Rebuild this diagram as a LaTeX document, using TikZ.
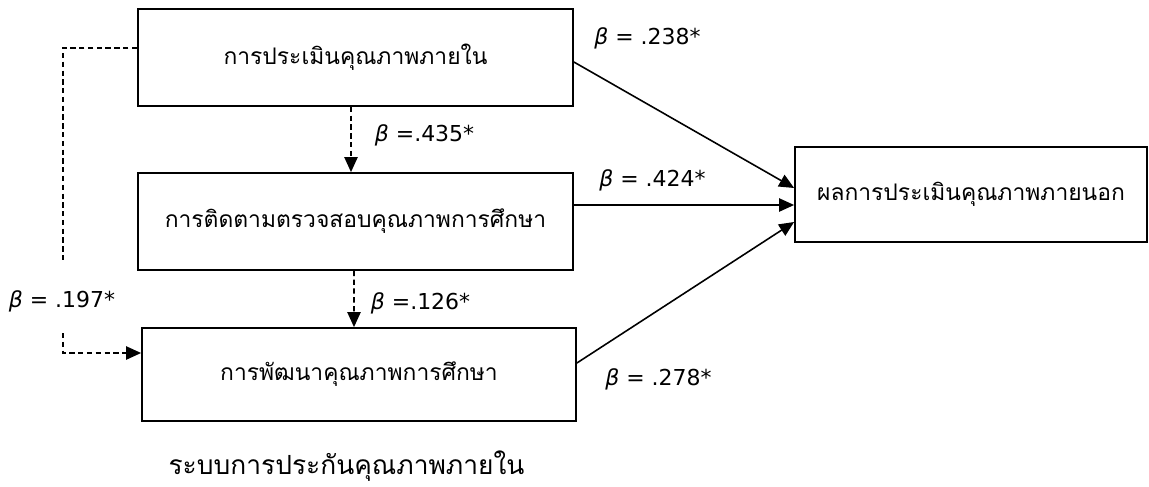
\documentclass[tikz,border=0pt]{standalone}
\usepackage{fontspec}
\setmainfont{DejaVu Sans}
\newfontfamily\thaifont[Script=Thai]{Loma}
\usetikzlibrary{arrows.meta}

\begin{document}
\begin{tikzpicture}[
  box/.style={draw, line width=1pt, minimum width=8.7cm, minimum height=1.94cm, inner sep=0pt, font=\thaifont\fontsize{13}{15}\selectfont},
  link/.style={line width=0.9pt, -{Triangle[length=8.5pt,width=7.5pt]}},
  dlink/.style={link, dash pattern=on 3pt off 2pt},
  coef/.style={font=\fontsize{12.5}{14}\selectfont, inner sep=1pt}
]
\useasboundingbox (0,0) rectangle (22.98,9.72);

% Draw the three internal boxes and the outcome box
\node[box] (eval) at (7.11,8.57) {การประเมินคุณภาพภายใน};
\node[box] (monitor) at (7.11,5.29) {การติดตามตรวจสอบคุณภาพการศึกษา};
\node[box, minimum width=8.68cm, minimum height=1.86cm] (develop) at (7.18,2.23) {การพัฒนาคุณภาพการศึกษา};
\node[box, minimum width=7.04cm, minimum height=1.9cm] (external) at (19.42,5.83) {ผลการประเมินคุณภาพภายนอก};
\node[inner sep=0pt, font=\thaifont\fontsize{15}{17}\selectfont] (system) at (6.93,0.4) {ระบบการประกันคุณภาพภายใน};

% Draw direct paths to the outcome
\draw[link] ([yshift=-0.09cm]eval.east) -- ([yshift=0.13cm]external.west);
\draw[link] ([yshift=0.33cm]monitor.east) -- ([yshift=-0.21cm]external.west);
\draw[link] ([yshift=0.23cm]develop.east) -- ([yshift=-0.55cm]external.west);

% Draw dashed paths between internal boxes
\draw[dlink] ([xshift=-0.09cm]eval.south) -- ([xshift=-0.09cm]monitor.north);
\draw[dlink] ([xshift=-0.03cm]monitor.south) -- ([xshift=-0.1cm]develop.north);

% Left dashed path, broken by its label
\coordinate (gapTop) at (1.26,4.5);
\coordinate (gapBot) at (1.26,3.06);
\draw[line width=0.9pt, dash pattern=on 3pt off 2pt] ([yshift=0.19cm]eval.west) -| (gapTop);
\draw[dlink] (gapBot) |- ([yshift=0.43cm]develop.west);

% Coefficients
\node[coef] (b238) at (12.95,8.96) {{\itshape β} = .238*};
\node[coef] (b435) at (8.49,7.02) {{\itshape β} =.435*};
\node[coef] (b424) at (13.05,6.12) {{\itshape β} = .424*};
\node[coef] (b126) at (8.41,3.66) {{\itshape β} =.126*};
\node[coef] (b197) at (1.24,3.70) {{\itshape β} = .197*};
\node[coef] (b278) at (13.17,2.14) {{\itshape β} = .278*};
\end{tikzpicture}
\end{document}
